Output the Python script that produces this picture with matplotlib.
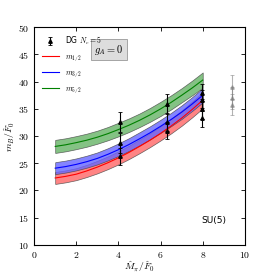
import matplotlib
matplotlib.use("Agg")
import matplotlib.pyplot as plt
import numpy as np
from matplotlib.ticker import FuncFormatter

plt.rcParams['mathtext.fontset'] = 'cm'

# band data
band_x = [1, 1.5, 2, 2.5, 3, 3.5, 4, 4.5, 5, 5.5, 6, 6.5, 7, 7.5, 8]
m12_c = [22.3, 22.6, 23.0, 23.6, 24.3, 25.1, 26.0, 27.0, 28.1, 29.25, 30.5, 31.85, 33.3, 34.9, 36.6]
m12_w = [1.1, 1.1, 1.1, 1.12, 1.15, 1.17, 1.2, 1.22, 1.25, 1.27, 1.3, 1.35, 1.4, 1.45, 1.5]
m32_c = [24.1, 24.4, 24.8, 25.3, 25.9, 26.65, 27.5, 28.45, 29.5, 30.6, 31.8, 33.05, 34.4, 35.9, 37.5]
m32_w = [1.1, 1.1, 1.1, 1.1, 1.1, 1.12, 1.15, 1.17, 1.2, 1.2, 1.2, 1.22, 1.25, 1.27, 1.3]
m52_c = [28.1, 28.4, 28.8, 29.25, 29.8, 30.45, 31.2, 32.0, 32.9, 33.9, 35.0, 36.2, 37.5, 38.85, 40.3]
m52_w = [1.2, 1.2, 1.2, 1.2, 1.2, 1.22, 1.25, 1.25, 1.25, 1.27, 1.3, 1.3, 1.3, 1.35, 1.4]

# lattice data DG Nc=5
dg_x = [4.08, 4.08, 4.08, 6.32, 6.32, 6.32, 7.98, 7.98, 7.98, 7.98]
dg_y = [26.3, 28.7, 32.6, 31.0, 32.6, 35.9, 33.4, 35.0, 36.6, 38.0]
dg_e = [1.6, 1.8, 1.9, 1.5, 1.7, 1.9, 1.7, 1.8, 1.9, 1.5]

# gray points
gr_x = [9.4, 9.4, 9.4]
gr_y = [35.8, 37.0, 39.0]
gr_e = [1.9, 2.0, 2.2]

fig = plt.figure(figsize=(2.73, 2.73), dpi=100)
ax = fig.add_axes([0.125, 0.103, 0.772, 0.797])

bx = np.array(band_x)
for c, w, col, fc, lab in [(m12_c, m12_w, 'red', '#ff6666', r'$m_{1/2}$'),
                           (m32_c, m32_w, 'blue', '#6666ff', r'$m_{3/2}$'),
                           (m52_c, m52_w, 'green', '#66b366', r'$m_{5/2}$')]:
    c = np.array(c); w = np.array(w)
    ax.fill_between(bx, c - w, c + w, facecolor=fc, alpha=0.8,
                    edgecolor='#444444', linewidth=0.5)
    ax.plot(bx, c, color=col, lw=0.8, label=lab)

eb = ax.errorbar(dg_x, dg_y, yerr=dg_e, fmt='^', color='black', ms=2.5,
                 capsize=1.5, elinewidth=0.8, capthick=0.6, label=r'DG $N_c=5$')
ax.errorbar(gr_x, gr_y, yerr=gr_e, fmt='^', color='gray', ms=2.5, alpha=0.6,
            capsize=1.5, elinewidth=0.8, capthick=0.6)

ax.set_xlim(0, 10)
ax.set_ylim(10, 50)
ax.set_xticks([0, 2, 4, 6, 8, 10])
ax.set_yticks([10, 15, 20, 25, 30, 35, 40, 45, 50])
fmt = FuncFormatter(lambda v, p: r'$%g$' % v)
ax.xaxis.set_major_formatter(fmt)
ax.yaxis.set_major_formatter(fmt)
ax.tick_params(direction='in', top=True, right=True, labelsize=7, length=3, width=0.6)
for s in ax.spines.values():
    s.set_linewidth(0.8)

ax.set_xlabel(r'$\hat{M}_\pi/\hat{F}_0$', fontsize=7, labelpad=0)
ax.set_ylabel(r'$m_B/\hat{F}_0$', fontsize=7, labelpad=1)

handles, labels = ax.get_legend_handles_labels()
order = [3, 0, 1, 2]
ax.legend([handles[i] for i in order], [labels[i] for i in order],
          loc='upper left', frameon=False, fontsize=5.5, handlelength=2.2,
          borderaxespad=0.6, labelspacing=0.6)

ax.text(3.55, 45.9, r'$g_A=0$', fontsize=7.5, ha='center', va='center',
        bbox=dict(facecolor='#dddddd', edgecolor='#999999', boxstyle='square,pad=0.3', lw=0.6))
ax.text(8.55, 14.5, 'SU(5)', fontsize=6.5, ha='center', va='center')

fig.savefig('out.png', dpi=100)
